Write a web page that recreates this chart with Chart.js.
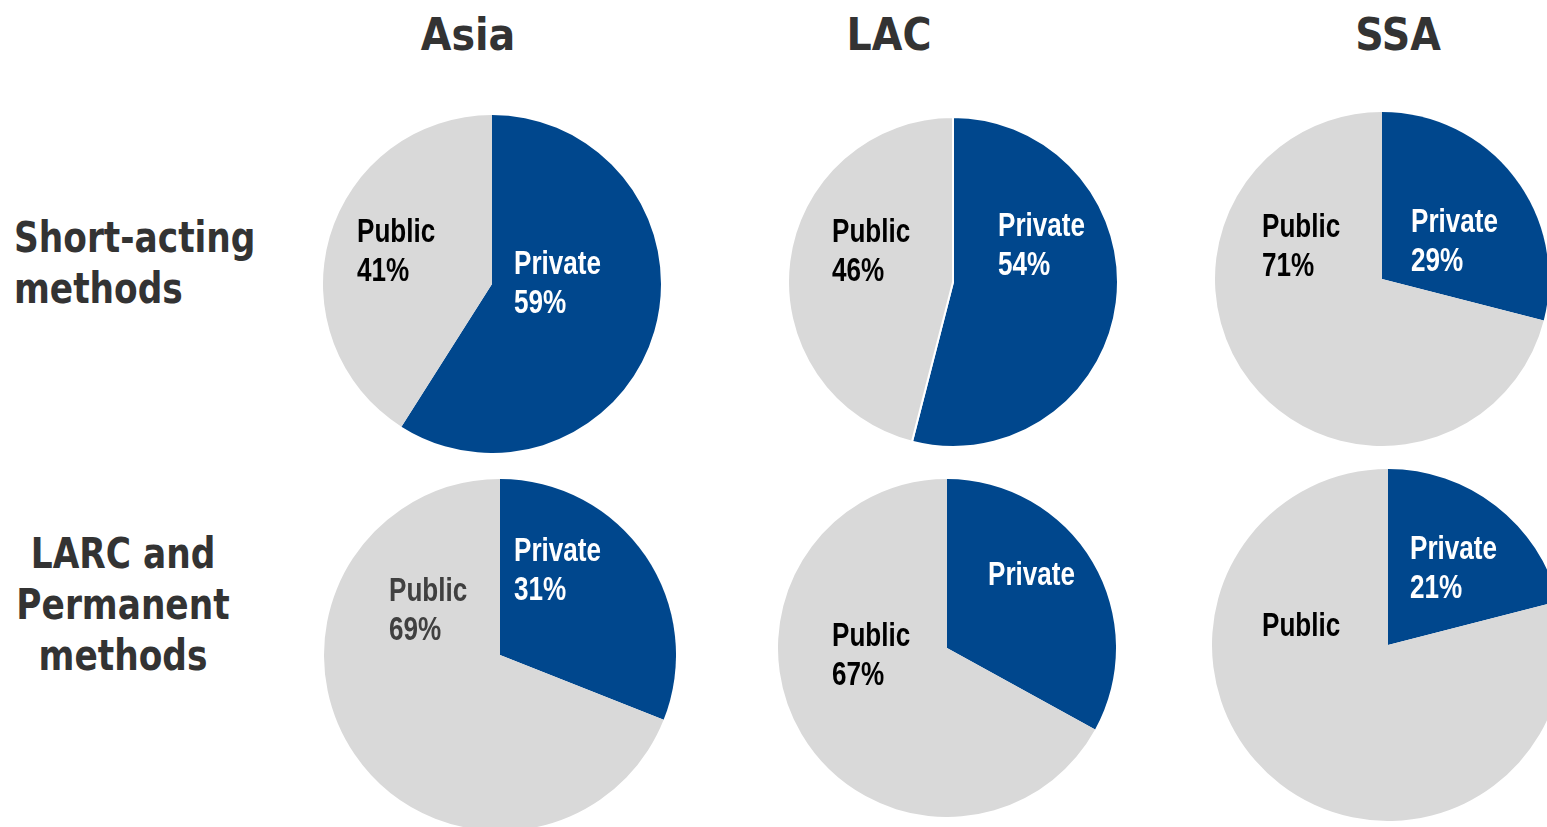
<!DOCTYPE html>
<html>
<head>
<meta charset="utf-8">
<script src="https://cdn.jsdelivr.net/npm/chart.js@4"></script>
<style>
  html, body { margin: 0; padding: 0; background: #fff; }
  body { width: 1547px; height: 827px; overflow: hidden; position: relative;
         font-family: "DejaVu Sans Condensed", "DejaVu Sans", sans-serif; color: #333; }
  .title { position: absolute; width: 300px; text-align: center; font-weight: bold;
           font-size: 44px; line-height: 44px; }
  .rowlab { position: absolute; font-weight: bold; font-size: 42px; line-height: 51px;
            white-space: nowrap; }
  canvas { position: absolute; }
</style>
</head>
<body>
<script>
// data
var regions = ["Asia", "LAC", "SSA"];
var rowNames = [["Short-acting", "methods"], ["LARC and", "Permanent", "methods"]];
var privateShort = [59, 54, 29];
var publicShort = [41, 46, 71];
var privateLarc = [31, 33, 21];
var publicLarc = [69, 67, 79];
// which slices print their percentage in the original
var pctPrivate = [[true, true, true], [true, false, true]];
var pctPublic = [[true, true, true], [true, true, false]];

var BLUE = "#00478d";
var GREY = "#d9d9d9";

// layout: pie centres, radii, label offsets from centre (left edge, cap top)
var layout = [
  [ {cx: 492, cy: 284, r: 169, pub: [-135, -66], pri: [22, -34], pubColor: "#000"},
    {cx: 953, cy: 282, r: 166, pub: [-121, -64], pri: [45, -70], pubColor: "#000", border: 2},
    {cx: 1382, cy: 279, r: 167, pub: [-120, -66], pri: [29, -71], pubColor: "#000"} ],
  [ {cx: 500, cy: 655, r: 176, pub: [-111, -78], pri: [14, -118], pubColor: "#404040"},
    {cx: 947, cy: 648, r: 169, pub: [-115, -26], pri: [41, -87], pubColor: "#000"},
    {cx: 1388, cy: 645, r: 176, pub: [-126, -33], pri: [22, -110], pubColor: "#000"} ]
];
var titleX = [468, 889, 1398];

// narrow bold labels (no Arial Narrow here, so squeeze Liberation Sans)
var sliceLabels = {
  id: 'sliceLabels',
  afterDatasetsDraw: function(chart) {
    var o = chart.options.plugins.sliceLabels;
    var arc = chart.getDatasetMeta(0).data[0];
    var ctx = chart.ctx;
    o.items.forEach(function(it) {
      ctx.save();
      ctx.translate(arc.x + it.dx, arc.y + it.dy + 24);
      ctx.scale(0.79, 1);
      ctx.font = 'bold 33px "Liberation Sans", Arial, sans-serif';
      ctx.textAlign = 'left';
      ctx.textBaseline = 'alphabetic';
      ctx.fillStyle = it.color;
      it.lines.forEach(function(line, i) {
        ctx.fillText(line, 0, i * 39);
      });
      ctx.restore();
    });
  }
};

// titles
regions.forEach(function(name, i) {
  var d = document.createElement('div');
  d.className = 'title';
  d.textContent = name;
  d.style.left = (titleX[i] - 150) + 'px';
  d.style.top = '13px';
  document.body.appendChild(d);
});

// row labels
var r1 = document.createElement('div');
r1.className = 'rowlab';
r1.innerHTML = rowNames[0].join('<br>');
r1.style.left = '14px';
r1.style.top = '212px';
r1.style.transform = 'scaleX(0.91)';
r1.style.transformOrigin = 'left top';
document.body.appendChild(r1);

var r2 = document.createElement('div');
r2.className = 'rowlab';
r2.innerHTML = rowNames[1].join('<br>');
r2.style.left = '0px';
r2.style.width = '246px';
r2.style.textAlign = 'center';
r2.style.top = '528px';
r2.style.transform = 'scaleX(0.91)';
r2.style.transformOrigin = 'center top';
document.body.appendChild(r2);

var privRows = [privateShort, privateLarc];
var pubRows = [publicShort, publicLarc];

for (var row = 0; row < 2; row++) {
  for (var col = 0; col < 3; col++) {
    var L = layout[row][col];
    var pv = privRows[row][col], pb = pubRows[row][col];
    var cv = document.createElement('canvas');
    cv.width = 2 * L.r;
    cv.height = 2 * L.r;
    cv.style.left = (L.cx - L.r) + 'px';
    cv.style.top = (L.cy - L.r) + 'px';
    document.body.appendChild(cv);

    var items = [
      {lines: pctPublic[row][col] ? ['Public', pb + '%'] : ['Public'],
       dx: L.pub[0], dy: L.pub[1], color: L.pubColor},
      {lines: pctPrivate[row][col] ? ['Private', pv + '%'] : ['Private'],
       dx: L.pri[0], dy: L.pri[1], color: '#fff'}
    ];

    new Chart(cv.getContext('2d'), {
      type: 'pie',
      data: {
        labels: ['Private', 'Public'],
        datasets: [{
          data: [pv, pb],
          backgroundColor: [BLUE, GREY],
          borderColor: '#fff',
          borderWidth: L.border || 0
        }]
      },
      options: {
        responsive: false,
        animation: false,
        layout: {padding: 0},
        plugins: {
          legend: {display: false},
          tooltip: {enabled: false},
          sliceLabels: {items: items}
        }
      },
      plugins: [sliceLabels]
    });
  }
}
</script>
</body>
</html>
